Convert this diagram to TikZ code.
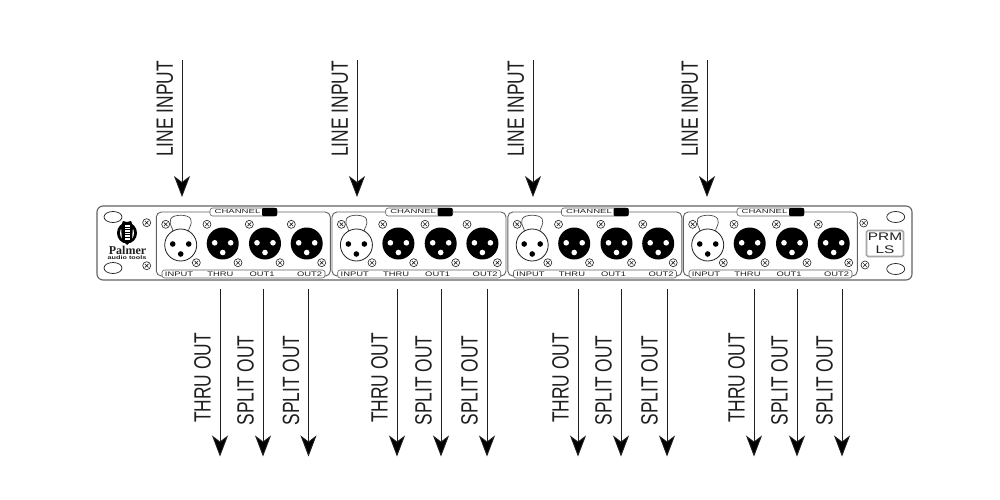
\documentclass[tikz,border=0pt]{standalone}
\usepackage{fontspec}
\setmainfont{Liberation Sans}
\newfontfamily\palmerfont{Liberation Serif}
\usetikzlibrary{arrows.meta}
\definecolor{ink}{gray}{0.12}
\definecolor{panelline}{gray}{0.38}
\newcommand{\bigtext}[1]{\scalebox{0.74}[1]{\fontsize{23.5}{24}\selectfont #1}}
\newcommand{\jacktext}[1]{\scalebox{1.42}[1]{\fontsize{6.6}{7}\selectfont #1}}
\tikzset{
  x=1pt,y=-1pt,
  flow/.style={draw=ink,line width=0.9pt,-{Stealth[length=21pt,width=16pt,inset=6pt,fill=black]}},
  biglabel/.style={text=ink,inner sep=0pt,rotate=90,anchor=center},
  chassis/.style={draw=panelline,line width=1.1pt,rounded corners=6pt,fill=white},
  modulebox/.style={draw=panelline,line width=0.9pt,rounded corners=5pt},
  stripbox/.style={draw=panelline,line width=0.6pt,rounded corners=2.5pt,fill=white},
  oval/.style={draw=ink,line width=0.7pt,fill=white},
  jacklabel/.style={text=ink,inner sep=0pt,anchor=center},
  screw/.pic={
    \draw[ink,line width=0.6pt,fill=white] (0,0) circle[radius=4];
    \draw[ink,line width=0.6pt] (-1.8,-1.8) -- (1.8,1.8) (-1.8,1.8) -- (1.8,-1.8);
  },
  xlrout/.pic={
    \fill[black] (0,0) circle[radius=16];
    \fill[white] (-8,-0.7) circle[radius=2.8] (8,-0.7) circle[radius=2.8] (0,9) circle[radius=2.8];
  },
  xlrin/.pic={
    \draw[gray!60!black,line width=0.7pt,fill=white] (-7.5,-13) .. controls (-8,-18) and (-12,-20) .. (-10,-26) .. controls (-8,-31) and (8,-31) .. (10,-26) .. controls (12,-20) and (8,-18) .. (7.5,-13);
    \draw[ink,line width=0.8pt,fill=white] (0,0) circle[radius=16];
    \fill[black] (-8,-1) circle[radius=2.8] (8,-1) circle[radius=2.8] (0,9) circle[radius=2.8];
  }
}
\begin{document}
\begin{tikzpicture}
\useasboundingbox (0,0) rectangle (1000,500);
\fill[white] (0,0) rectangle (1000,500);

% rack chassis
\node[chassis,minimum width=815pt,minimum height=74pt,inner sep=0pt] (rack) at (504.5,243) {};

% ear details, left
\draw[oval] (113,217) ellipse[x radius=9,y radius=5.5];
\draw[oval] (113,268) ellipse[x radius=9,y radius=5.5];
\pic at (146.7,222.7) {screw};
\pic at (146.7,265.7) {screw};
% logo
\fill[black] (127,233) ellipse[x radius=10,y radius=10.5];
\fill[white] (127,233) ellipse[x radius=7,y radius=8];
\fill[black] (127,222) -- (123,221) -- (121,226) -- (122,240) -- (127,245) -- (132,240) -- (133,226) -- (131,221) -- cycle;
\fill[white] (124.5,225) rectangle (129.5,240);
\foreach \yy in {227,229.5,232,234.5,237}{\draw[black,line width=0.5pt] (124.5,\yy) -- (129.5,\yy);}
\node[inner sep=0pt,text=ink] (palmer) at (127.5,250) {\palmerfont\bfseries\fontsize{12}{12}\selectfont Palmer};
\node[inner sep=0pt,text=ink] (tools) at (127,257.5) {\scalebox{1.4}[1]{\bfseries\fontsize{5.2}{6}\selectfont audio tools}};

% ear details, right
\draw[oval] (895.7,217) ellipse[x radius=9,y radius=5.5];
\draw[oval] (895.7,269) ellipse[x radius=9,y radius=5.5];
\pic at (863.7,223) {screw};
\pic at (865,265) {screw};
\node[draw=gray!70,line width=1.6pt,rounded corners=1.5pt,minimum width=37pt,minimum height=26pt,inner sep=0pt,text=ink,align=center] (prm) at (885,243.5)
  {\scalebox{1.4}[1]{\fontsize{11}{11}\selectfont PRM}\\[0.5pt]\scalebox{1.4}[1]{\fontsize{11}{11}\selectfont LS}};

% four channel modules
\foreach \off/\idx in {0/1,175.7/2,351.5/3,527/4}{
\begin{scope}[shift={(\off,0)}]
  \node[modulebox,minimum width=174pt,minimum height=64pt,inner sep=0pt] (mod\idx) at (243.3,244) {};
  \node[stripbox,minimum width=67pt,minimum height=8pt,inner sep=0pt] (tab\idx) at (243.5,212) {};
  \fill[black,rounded corners=1pt] (262,208) rectangle (277,216);
  \node[jacklabel] (chan\idx) at (237.5,212) {\scalebox{1.65}[1]{\fontsize{5.8}{6}\selectfont CHANNEL}};
  \pic at (180.7,245) {xlrin};
  \pic at (222.7,243.5) {xlrout};
  \pic at (265,243.5) {xlrout};
  \pic at (306.7,243.5) {xlrout};
  \foreach \xx in {165.7,207,249.3,291.3}{\pic at (\xx,224.3) {screw};}
  \foreach \xx in {196.3,238,280,321.7}{\pic at (\xx,262.7) {screw};}
  \node[stripbox,minimum width=163pt,minimum height=8pt,inner sep=0pt] (strip\idx) at (243.5,274) {};
  \node[jacklabel] (li\idx) at (179,274) {\jacktext{INPUT}};
  \node[jacklabel] (lt\idx) at (220.5,274) {\jacktext{THRU}};
  \node[jacklabel] (lo\idx) at (262,274) {\jacktext{OUT1}};
  \node[jacklabel] (lp\idx) at (309.5,274) {\jacktext{OUT2}};
\end{scope}
}

% line inputs
\foreach \xx/\idx in {182/1,357/2,533/3,707/4}{
  \coordinate (ins\idx) at (\xx,60);
  \coordinate (ine\idx) at (\xx,197);
  \draw[flow] (ins\idx) -- (ine\idx);
  \node[biglabel] (inl\idx) at (\xx-17,109) {\bigtext{LINE INPUT}};
}

% outputs
\foreach \xa/\xb/\xc/\idx in {220/263/308.5/1,397/441/487/2,578/621/667/3,754/797/842/4}{
  \coordinate (ta\idx) at (\xa,289);
  \coordinate (tb\idx) at (\xa,456.5);
  \coordinate (sa\idx) at (\xb,289);
  \coordinate (sb\idx) at (\xb,456.5);
  \coordinate (ua\idx) at (\xc,289);
  \coordinate (ub\idx) at (\xc,456.5);
  \draw[flow] (ta\idx) -- (tb\idx);
  \draw[flow] (sa\idx) -- (sb\idx);
  \draw[flow] (ua\idx) -- (ub\idx);
  \node[biglabel] (tl\idx) at (\xa-17.5,378) {\bigtext{THRU OUT}};
  \node[biglabel] (sl\idx) at (\xb-17.5,380.5) {\bigtext{SPLIT OUT}};
  \node[biglabel] (ul\idx) at (\xc-17.5,380.5) {\bigtext{SPLIT OUT}};
}
\end{tikzpicture}
\end{document}
